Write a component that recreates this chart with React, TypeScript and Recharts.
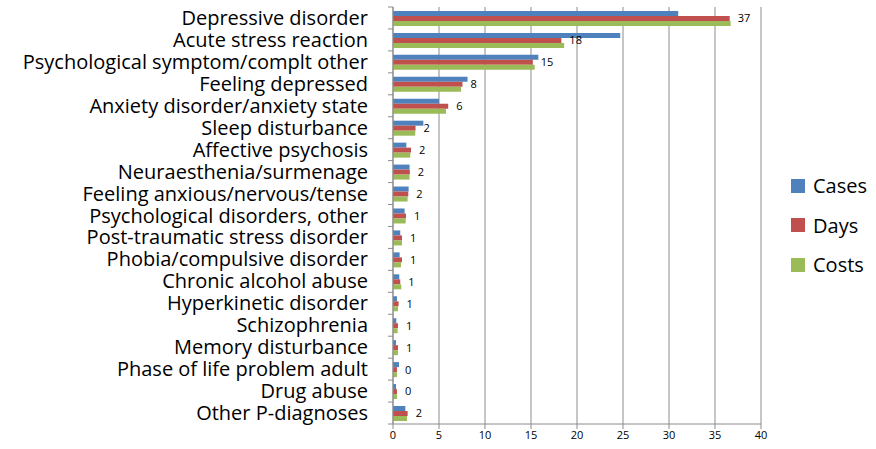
import { BarChart, Bar, XAxis, YAxis, CartesianGrid, LabelList } from 'recharts'

const CATEGORIES = [
  'Depressive disorder',
  'Acute stress reaction',
  'Psychological symptom/complt other',
  'Feeling depressed',
  'Anxiety disorder/anxiety state',
  'Sleep disturbance',
  'Affective psychosis',
  'Neuraesthenia/surmenage',
  'Feeling anxious/nervous/tense',
  'Psychological disorders, other',
  'Post-traumatic stress disorder',
  'Phobia/compulsive disorder',
  'Chronic alcohol abuse',
  'Hyperkinetic disorder',
  'Schizophrenia',
  'Memory disturbance',
  'Phase of life problem adult',
  'Drug abuse',
  'Other P-diagnoses',
]

const CASES = [31.0, 24.7, 15.8, 8.1, 5.0, 3.3, 1.45, 1.8, 1.7, 1.26, 0.79, 0.72, 0.68, 0.43, 0.36, 0.33, 0.65, 0.33, 1.34]
const DAYS = [36.6, 18.3, 15.2, 7.55, 6.0, 2.45, 1.96, 1.83, 1.66, 1.41, 0.98, 0.98, 0.79, 0.61, 0.54, 0.54, 0.43, 0.43, 1.59]
const COSTS = [36.7, 18.6, 15.4, 7.4, 5.76, 2.42, 1.88, 1.8, 1.59, 1.38, 0.98, 0.87, 0.9, 0.54, 0.5, 0.54, 0.43, 0.43, 1.52]

const X_TICKS = [0, 5, 10, 15, 20, 25, 30, 35, 40]

const SERIES = [
  { key: 'cases', name: 'Cases', color: '#4f81bd' },
  { key: 'days', name: 'Days', color: '#c0504d' },
  { key: 'costs', name: 'Costs', color: '#9bbb59' },
]

const data = CATEGORIES.map((name, i) => ({
  name,
  cases: CASES[i],
  days: DAYS[i],
  costs: COSTS[i],
}))

const FONT = '"Open Sans", Lato, sans-serif'
const TOP = 7
const PLOT_H = 417
const BAND = PLOT_H / CATEGORIES.length
const AXIS_X = 393

// category ticks sit on the band edges, like the original spreadsheet chart
function CategoryTick({ y, payload, index }: any) {
  const half = BAND / 2
  const last = index === CATEGORIES.length - 1
  return (
    <g>
      <line x1={AXIS_X - 5} x2={AXIS_X} y1={y - half} y2={y - half} stroke="#8c8c8c" />
      {last && <line x1={AXIS_X - 5} x2={AXIS_X} y1={y + half} y2={y + half} stroke="#8c8c8c" />}
      <text x={AXIS_X - 25} y={y} dy={7} textAnchor="end" fontSize={20} fill="#000" fontFamily={FONT}>
        {payload.value}
      </text>
    </g>
  )
}

export default function App() {
  return (
    <div style={{ position: 'absolute', left: 0, top: 0, width: 876, height: 449, background: '#fff' }}>
      <BarChart
        width={876}
        height={449}
        data={data}
        layout="vertical"
        margin={{ top: TOP, right: 115, bottom: 0, left: 0 }}
        barCategoryGap="18%"
        barGap={0}
      >
        <CartesianGrid horizontal={false} stroke="#8c8c8c" />
        <XAxis
          type="number"
          domain={[0, 40]}
          ticks={X_TICKS}
          height={25}
          stroke="#8c8c8c"
          tickSize={5}
          tick={{ fontSize: 11, fill: '#000', fontFamily: FONT }}
        />
        <YAxis
          type="category"
          dataKey="name"
          width={AXIS_X}
          stroke="#8c8c8c"
          tickLine={false}
          tick={<CategoryTick />}
          interval={0}
        />
        {SERIES.map((s) => (
          <Bar key={s.key} dataKey={s.key} name={s.name} fill={s.color} isAnimationActive={false}>
            {s.key === 'days' && (
              <LabelList
                dataKey="days"
                position="right"
                offset={8}
                formatter={(v: any) => Math.round(Number(v))}
                style={{ fontSize: 11, fill: '#000', fontFamily: FONT }}
              />
            )}
          </Bar>
        ))}
      </BarChart>
      <div style={{ position: 'absolute', left: 791, top: 166, fontFamily: FONT, fontSize: 20 }}>
        {SERIES.map((s) => (
          <div key={s.key} style={{ display: 'flex', alignItems: 'center', height: 39.5 }}>
            <span style={{ width: 14, height: 14, background: s.color, marginRight: 8, display: 'inline-block' }} />
            <span>{s.name}</span>
          </div>
        ))}
      </div>
    </div>
  )
}
